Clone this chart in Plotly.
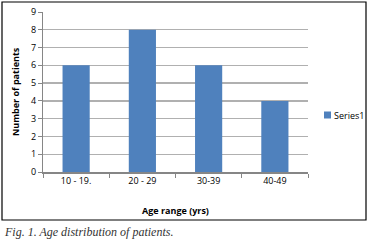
import plotly.graph_objects as go

categories = ["10 - 19.", "20 - 29", "30-39", "40-49"]
values = [6, 8, 6, 4]
series_name = "Series1"
x_title = "Age range (yrs)"
y_title = "Number of patients"
caption = "Fig. 1. Age distribution of patients."

W, H = 374, 245
L, R, T, B = 43, 66, 12, 73
pw, ph = W - L - R, H - T - B
BAR_COLOR = "#4f81bd"
FONT = "Open Sans"

def px(x):
    return (x - L) / pw

def py(y):
    return (H - B - y) / ph

fig = go.Figure()
fig.add_trace(go.Bar(x=categories, y=values, name=series_name,
                     marker=dict(color=BAR_COLOR, line=dict(width=0)),
                     showlegend=False))

fig.update_layout(
    width=W, height=H,
    margin=dict(l=L, r=R, t=T, b=B, autoexpand=False),
    paper_bgcolor="white", plot_bgcolor="white",
    bargap=0.59,
    showlegend=False,
    font=dict(family=FONT, size=9, color="#000"),
)
fig.update_xaxes(
    automargin=False,
    showline=True, linecolor="#868686", linewidth=1.5,
    ticks="outside", tickson="boundaries", ticklen=4, tickcolor="#868686",
    tickfont=dict(family=FONT, size=9, color="#000"),
    showgrid=False,
)
fig.update_yaxes(
    automargin=False,
    range=[0, 9], dtick=1,
    showline=True, linecolor="#868686", linewidth=1,
    ticks="outside", ticklen=4, tickcolor="#868686",
    tickfont=dict(family=FONT, size=9, color="#000"),
    showgrid=True, gridcolor="#b0b0b0", gridwidth=1.3,
    zeroline=False,
)

# axis titles
fig.add_annotation(text="<b>" + x_title + "</b>", xref="paper", yref="paper",
                   x=0.5, y=py(210), xanchor="center", yanchor="middle",
                   showarrow=False, font=dict(family=FONT, size=9, color="#000"))
fig.add_annotation(text="<b>" + y_title + "</b>", xref="paper", yref="paper",
                   x=px(15), y=0.5, xanchor="center", yanchor="middle",
                   textangle=-90, showarrow=False,
                   font=dict(family=FONT, size=9, color="#000"))

# outer chart border
fig.add_shape(type="rect", xref="paper", yref="paper",
              x0=px(2), x1=px(366), y0=py(220), y1=py(2),
              line=dict(color="#000", width=1.2), layer="below")

# legend (square key + label)
fig.add_shape(type="rect", xref="paper", yref="paper",
              x0=px(324), x1=px(331), y0=py(118.5), y1=py(111.5),
              fillcolor=BAR_COLOR, line=dict(width=0))
fig.add_annotation(text=series_name, xref="paper", yref="paper",
                   x=px(332), y=py(115), xanchor="left", yanchor="middle",
                   showarrow=False,
                   font=dict(family=FONT, size=9, color="#000"))

fig.add_annotation(text="<i>" + caption + "</i>", xref="paper", yref="paper",
                   x=px(2), y=py(232), xanchor="left", yanchor="middle",
                   showarrow=False,
                   font=dict(family="Liberation Serif", size=12, color="#333"))

fig.write_html("out.html",
               config={"displayModeBar": False, "staticPlot": True},
               post_script="document.body.style.margin='0';")
